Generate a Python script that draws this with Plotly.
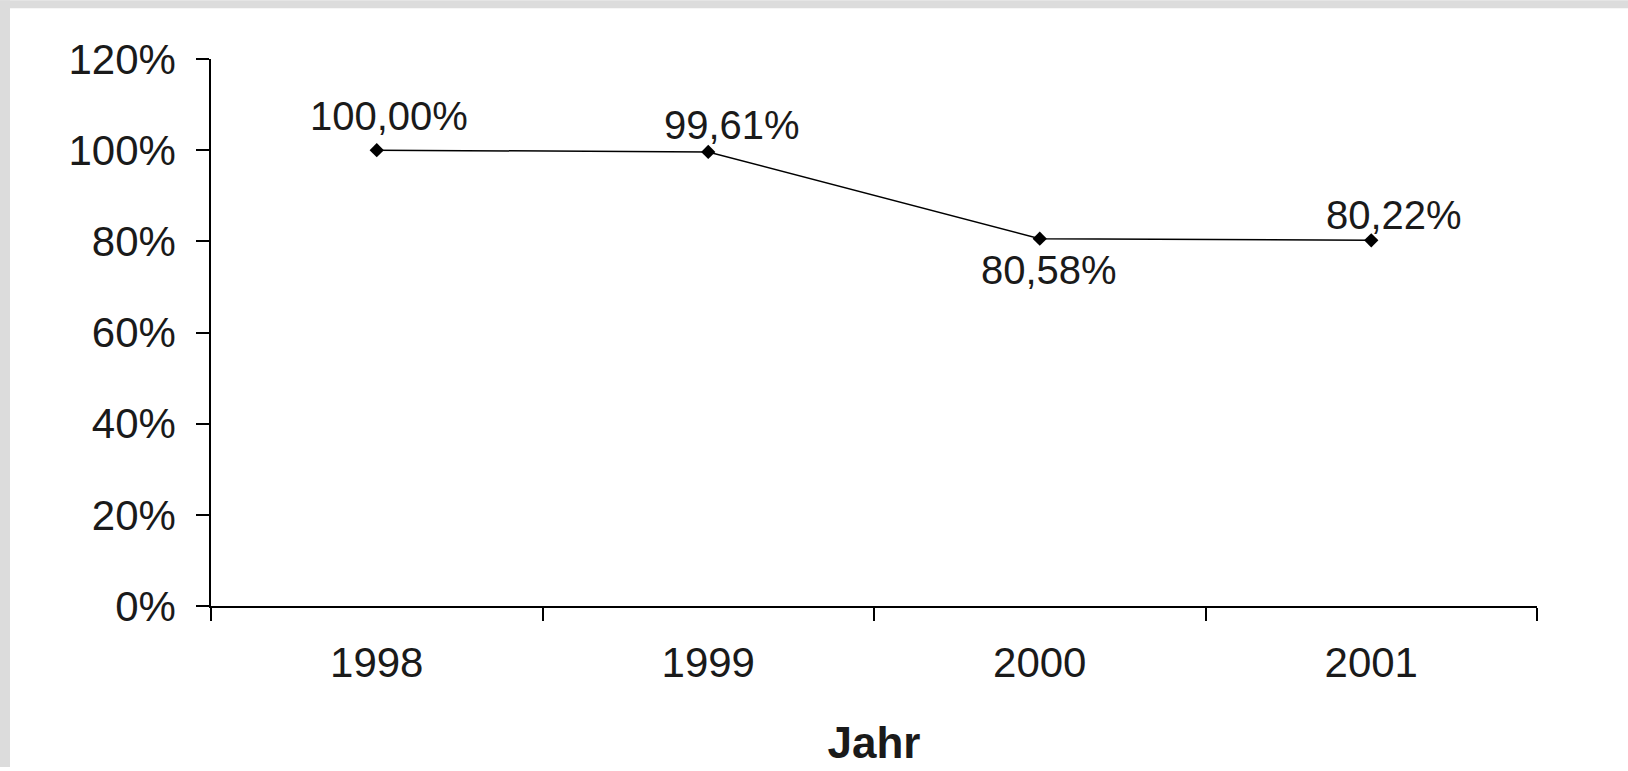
import plotly.graph_objects as go

years = ["1998", "1999", "2000", "2001"]
values = [100.00, 99.61, 80.58, 80.22]
labels = ["100,00%", "99,61%", "80,58%", "80,22%"]
y_ticks = [0, 20, 40, 60, 80, 100, 120]
y_tick_text = ["0%", "20%", "40%", "60%", "80%", "100%", "120%"]
x_title = "Jahr"

# label offsets (pixels) relative to the point
label_dx = [12, 24, 9, 23]
label_dy = [34, 27, -31, 25]

W, H = 1628, 771
ML, MR, MT, MB = 211, 91, 59, 162
PW, PH = W - ML - MR, H - MT - MB

FONT = "Liberation Sans, Arial, sans-serif"
TXT = "#1a1a1a"

fig = go.Figure()
fig.add_trace(go.Scatter(
    x=years, y=values, mode="lines+markers",
    line=dict(color="black", width=1.5),
    marker=dict(symbol="diamond", size=11, color="black"),
    showlegend=False, hoverinfo="skip",
))

for i, (y, t, dx, dy) in enumerate(zip(values, labels, label_dx, label_dy)):
    fig.add_annotation(x=i, y=y, xref="x", yref="y", text=t, showarrow=False,
                       xshift=dx, yshift=dy,
                       font=dict(family=FONT, size=40, color=TXT))

gray = "#dcdcdc"
# left strip
fig.add_shape(type="rect", xref="paper", yref="paper",
              x0=-ML / PW, x1=(10 - ML) / PW, y0=-MB / PH, y1=1 + MT / PH,
              fillcolor=gray, line_width=0, layer="below")
# top strip
fig.add_shape(type="rect", xref="paper", yref="paper",
              x0=-ML / PW, x1=1 + MR / PW, y0=1 + (MT - 8) / PH, y1=1 + MT / PH,
              fillcolor=gray, line_width=0, layer="below")

fig.update_layout(
    width=W, height=H,
    margin=dict(l=ML, r=MR, t=MT, b=MB, pad=0),
    paper_bgcolor="white", plot_bgcolor="white",
    font=dict(family=FONT, color=TXT),
    xaxis=dict(
        type="category", range=[-0.5, 3.5], tickson="boundaries",
        ticks="outside", ticklen=13, tickwidth=1.5, tickcolor="black",
        showline=True, linecolor="black", linewidth=1.5,
        showgrid=False, zeroline=False,
        tickfont=dict(family=FONT, size=42, color=TXT),
        ticklabelstandoff=19,
        title=dict(text="<b>" + x_title + "</b>", font=dict(family=FONT, size=44, color=TXT), standoff=42),
    ),
    yaxis=dict(
        range=[0, 120], tickvals=y_ticks, ticktext=y_tick_text,
        ticks="outside", ticklen=13, tickwidth=1.5, tickcolor="black",
        showline=True, linecolor="black", linewidth=1.5,
        showgrid=False, zeroline=False,
        tickfont=dict(family=FONT, size=42, color=TXT),
        ticklabelstandoff=12,
    ),
)

fig.write_html("out.html", config={"displayModeBar": False},
               post_script="document.body.style.margin='0';document.body.style.overflow='hidden';")
